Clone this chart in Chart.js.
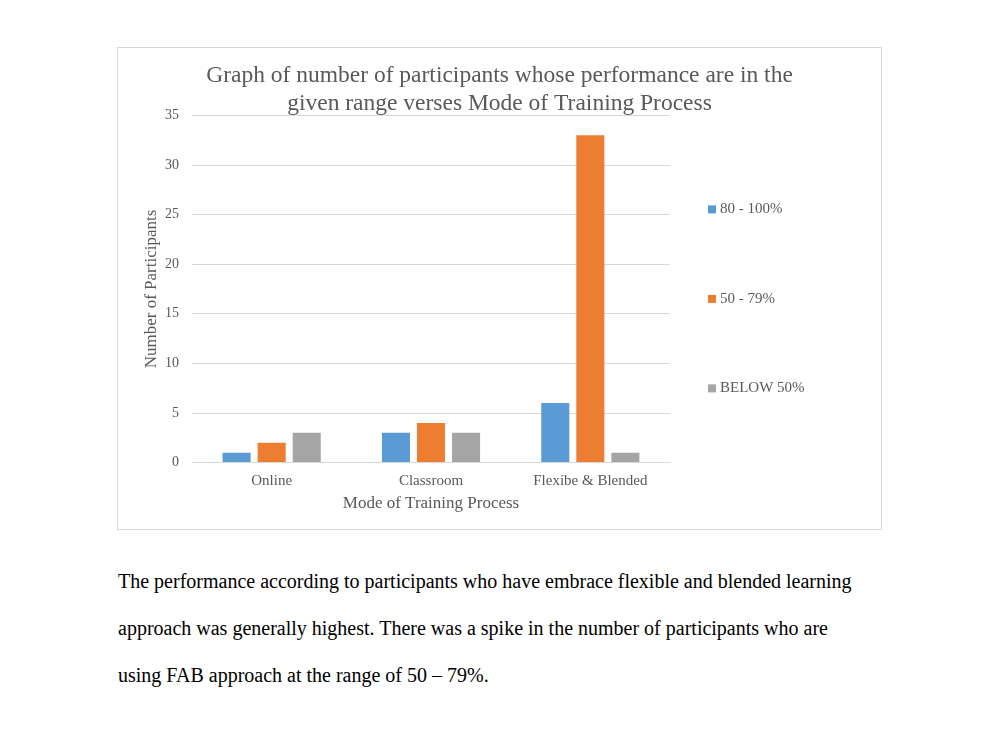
<!DOCTYPE html>
<html>
<head>
<meta charset="utf-8">
<script src="https://cdn.jsdelivr.net/npm/chart.js@4/dist/chart.umd.min.js"></script>
<style>
    body { margin: 0; background: #fff; width: 1000px; height: 750px; position: relative; font-family: "Liberation Serif", "Times New Roman", serif; }
    #chart-box { position: absolute; left: 117px; top: 47px; width: 765px; height: 483px; border: 1px solid #D9D9D9; box-sizing: border-box; }
    #chart-box canvas { display: block; }
    .para { position: absolute; left: 118px; top: 558px; width: 820px; font-size: 20px; line-height: 47px; color: #000; margin: 0; }
</style>
</head>
<body>
<div id="chart-box"><canvas id="mode-chart" width="763" height="481"></canvas></div>
<p class="para">The performance according to participants who have embrace flexible and blended learning<br>approach was generally highest. There was a spike in the number of participants who are<br>using FAB approach at the range of 50 &ndash; 79%.</p>

<script>
// Data
const categories = ['Online', 'Classroom', 'Flexibe & Blended'];
const seriesLabels = ['80 - 100%', '50 - 79%', 'BELOW 50%'];
const high = [1, 3, 6];
const mid = [2, 4, 33];
const low = [3, 3, 1];
const seriesColors = ['#5B9BD5', '#ED7D31', '#A5A5A5'];
const yTicks = [0, 5, 10, 15, 20, 25, 30, 35];

const serif = '"Liberation Serif", "Times New Roman", serif';
const textGrey = '#595959';

// legend drawn beside the plot, items spread out like the Excel one
const spreadLegend = {
    id: 'spreadLegend',
    afterDraw: function(chart, args, opts) {
        const ctx = chart.ctx;
        const area = chart.chartArea;
        ctx.save();
        ctx.font = '15px ' + serif;
        ctx.textBaseline = 'middle';
        chart.data.datasets.forEach(function(ds, i) {
            const x = area.right + opts.offsetX;
            const y = area.top + opts.firstY + i * opts.step;
            ctx.fillStyle = ds.backgroundColor;
            ctx.fillRect(x, y - 4, 8, 8);
            ctx.fillStyle = textGrey;
            ctx.fillText(ds.label, x + 12, y);
        });
        ctx.restore();
    }
};

const ctx = document.getElementById('mode-chart').getContext('2d');
const chart = new Chart(ctx, {
    type: 'bar',
    data: {
        labels: categories,
        datasets: [
            { label: seriesLabels[0], data: high, backgroundColor: seriesColors[0] },
            { label: seriesLabels[1], data: mid, backgroundColor: seriesColors[1] },
            { label: seriesLabels[2], data: low, backgroundColor: seriesColors[2] }
        ]
    },
    plugins: [spreadLegend],
    options: {
        responsive: false,
        animation: false,
        categoryPercentage: 0.66,
        barPercentage: 0.8,
        layout: { padding: { left: 0, right: 0, top: 0, bottom: 15 } },
        plugins: {
            legend: { display: false },
            tooltip: { enabled: false },
            title: {
                display: true,
                text: ['Graph of number of participants whose performance are in the',
                       'given range verses Mode of Training Process'],
                color: textGrey,
                font: { family: serif, size: 23.5, weight: 'normal', lineHeight: 1.2 },
                padding: { top: 14, bottom: -3 }
            },
            spreadLegend: { offsetX: 38, firstY: 94, step: 89.5 }
        },
        scales: {
            x: {
                grid: { display: false, drawTicks: false },
                border: { display: true, color: '#D9D9D9' },
                ticks: { color: textGrey, font: { family: serif, size: 15 }, padding: 9 },
                title: {
                    display: true,
                    text: 'Mode of Training Process',
                    color: textGrey,
                    font: { family: serif, size: 17 },
                    padding: { top: -5, bottom: 0 }
                }
            },
            y: {
                min: 0,
                max: 35,
                afterFit: function(scale) { scale.width = 74; },
                afterBuildTicks: function(scale) { scale.ticks = yTicks.map(v => ({ value: v })); },
                grid: { color: '#D9D9D9', drawTicks: false },
                border: { display: false },
                ticks: { color: textGrey, font: { family: serif, size: 14 }, padding: 13 },
                title: {
                    display: true,
                    text: 'Number of Participants',
                    color: textGrey,
                    font: { family: serif, size: 17 },
                    padding: { top: 23, bottom: 0 }
                }
            },
            // empty right axis that keeps room for the legend
            legendSpace: {
                type: 'linear',
                position: 'right',
                display: true,
                afterFit: function(scale) { scale.width = 211; },
                grid: { display: false, drawTicks: false },
                border: { display: false },
                ticks: { display: false }
            }
        }
    }
});
</script>
</body>
</html>
